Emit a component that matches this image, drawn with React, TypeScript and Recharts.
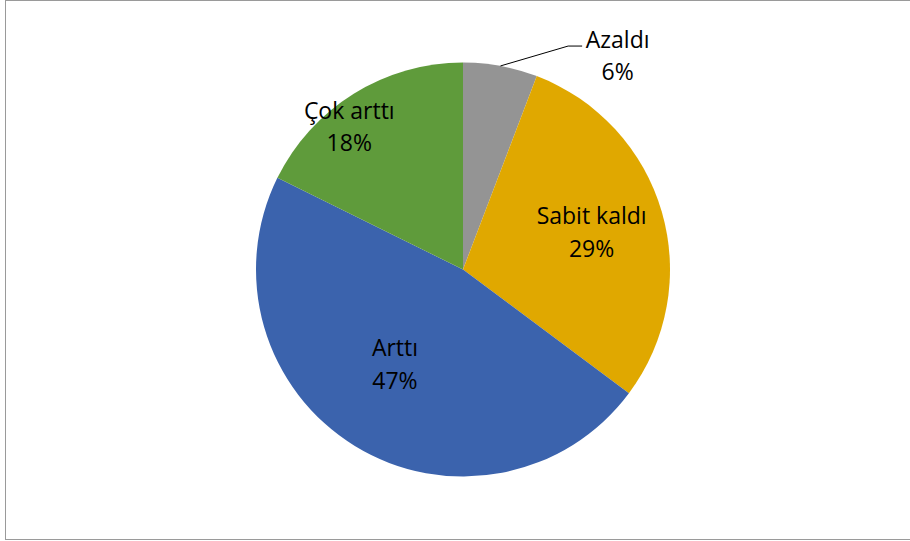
import { PieChart, Pie, Cell } from 'recharts';

const categories = ['Azaldı', 'Sabit kaldı', 'Arttı', 'Çok arttı'];
const values = [5.8, 29.4, 47.1, 17.7];
const colors = ['#949494', '#E0A800', '#3B63AD', '#5F9B3B'];

// Excel "best fit" label placement: distance (share of radius) and angle shift (deg)
const labelRadius = [1.243, 0.637, 0.597, 0.852];
const labelShift = [-26.5, -3.5, -1.9, 8.3];

const data = categories.map((name, i) => ({ name, value: values[i] }));

const RADIAN = Math.PI / 180;
const FONT = '"Open Sans", "Noto Sans", sans-serif';
const LINE = 32.4;

const renderLabel = (props: any) => {
  const { cx, cy, midAngle, outerRadius, index, name, percent } = props;
  const r = outerRadius * labelRadius[index];
  const a = midAngle + labelShift[index];
  const x = cx + r * Math.cos(-a * RADIAN);
  const y = cy + r * Math.sin(-a * RADIAN);
  const pct = `${Math.round(percent * 100)}%`;

  let leader = null;
  if (index === 0) {
    const ex = cx + outerRadius * Math.cos(-midAngle * RADIAN);
    const ey = cy + outerRadius * Math.sin(-midAngle * RADIAN);
    leader = (
      <polyline
        points={`${ex},${ey} ${x - 49.5},${y - 17.8} ${x - 35.5},${y - 17.8}`}
        fill="none"
        stroke="#000"
        strokeWidth={1}
      />
    );
  }

  return (
    <g>
      {leader}
      <text
        x={x}
        y={y}
        textAnchor="middle"
        fill="#000"
        style={{ fontFamily: FONT, fontSize: 23 }}
      >
        <tspan x={x} dy={-LINE / 2}>{name}</tspan>
        <tspan x={x} dy={LINE}>{pct}</tspan>
      </text>
    </g>
  );
};

export default function App() {
  return (
    <div
      style={{
        position: 'absolute',
        left: 0,
        top: 0,
        width: 910,
        height: 541,
        overflow: 'hidden',
        background: '#fff',
      }}
    >
      {/* chart frame */}
      <div
        style={{
          position: 'absolute',
          left: 5,
          top: 0,
          width: 920,
          height: 538,
          border: '1px solid #9a9a9a',
        }}
      />
      <div style={{ position: 'absolute', left: 0, top: 0 }}>
        <PieChart width={910} height={541} margin={{ top: 0, right: 0, bottom: 0, left: 0 }}>
          <Pie
            data={data}
            dataKey="value"
            nameKey="name"
            cx={463}
            cy={269.5}
            outerRadius={207}
            startAngle={90}
            endAngle={-270}
            stroke="none"
            label={renderLabel}
            labelLine={false}
            isAnimationActive={false}
          >
            {data.map((d, i) => (
              <Cell key={d.name} fill={colors[i]} />
            ))}
          </Pie>
        </PieChart>
      </div>
    </div>
  );
}
